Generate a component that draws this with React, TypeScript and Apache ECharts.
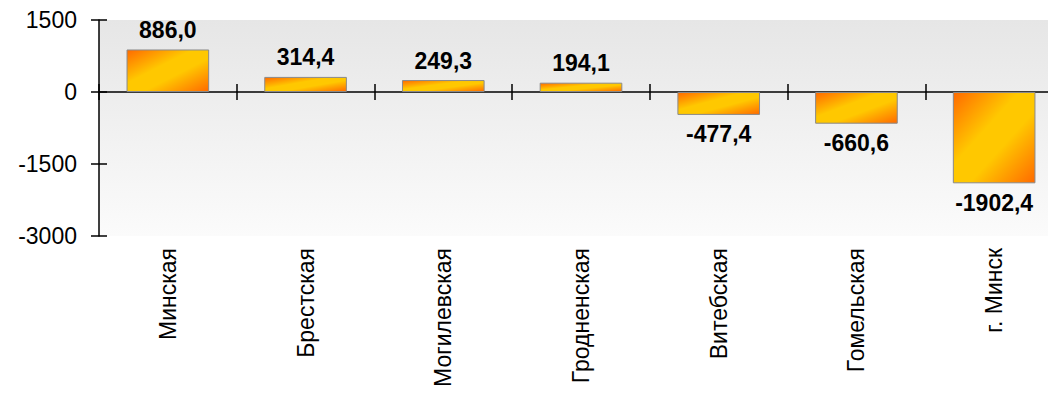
import React, { useEffect, useRef } from "react";
import * as echarts from "echarts";

const categories = ["Минская", "Брестская", "Могилевская", "Гродненская", "Витебская", "Гомельская", "г. Минск"];
const values = [886.0, 314.4, 249.3, 194.1, -477.4, -660.6, -1902.4];
const yMin = -3000;
const yMax = 1500;
const yInterval = 1500;

const fmt = (v: number) => v.toFixed(1).replace(".", ",");

export default function App() {
  const ref = useRef<HTMLDivElement>(null);
  useEffect(() => {
    if (!ref.current) return;
    const chart = echarts.init(ref.current, null, { renderer: "svg" });
    const barColor = new echarts.graphic.LinearGradient(0, 0, 1, 1, [
      { offset: 0, color: "#ff6a00" },
      { offset: 0.4, color: "#ffc800" },
      { offset: 0.6, color: "#ffc800" },
      { offset: 1, color: "#ff6a00" },
    ]);
    const font = "Liberation Sans, Arial, sans-serif";
    const yBase = {
      type: "value",
      min: yMin,
      max: yMax,
      interval: yInterval,
      position: "left",
      splitLine: { show: false },
    };
    const xBase = {
      type: "category",
      data: categories,
      boundaryGap: true,
      position: "bottom",
    };
    chart.setOption({
      animation: false,
      grid: {
        left: 99,
        top: 20,
        right: 0,
        bottom: 161,
        show: true,
        borderWidth: 0,
        backgroundColor: new echarts.graphic.LinearGradient(0, 0, 0, 1, [
          { offset: 0, color: "#e6e6e6" },
          { offset: 1, color: "#fbfbfb" },
        ]),
      },
      xAxis: [
        {
          ...xBase,
          axisLine: { show: false, onZero: false },
          axisTick: { show: false },
          axisLabel: {
            rotate: 90,
            margin: 12,
            fontSize: 23,
            color: "#000",
            fontFamily: font,
          },
        },
        {
          ...xBase,
          axisLine: { show: true, onZero: true, lineStyle: { color: "#000", width: 1.5 } },
          axisTick: { show: true, length: 8, lineStyle: { color: "#000", width: 1.5 } },
          axisLabel: { show: false },
        },
        {
          ...xBase,
          axisLine: { show: false, onZero: true },
          axisTick: { show: true, inside: true, length: 8, lineStyle: { color: "#000", width: 1.5 } },
          axisLabel: { show: false },
        },
      ],
      yAxis: [
        {
          ...yBase,
          axisLine: { show: true, lineStyle: { color: "#000", width: 1.5 } },
          axisTick: { show: true, length: 8, lineStyle: { color: "#000", width: 1.5 } },
          axisLabel: {
            fontSize: 23,
            color: "#000",
            fontFamily: font,
            margin: 22,
            formatter: (v: number) => String(v),
          },
        },
        {
          ...yBase,
          axisLine: { show: false },
          axisTick: { show: true, inside: true, length: 8, lineStyle: { color: "#000", width: 1.5 } },
          axisLabel: { show: false },
        },
      ],
      series: [
        {
          type: "bar",
          xAxisIndex: 1,
          yAxisIndex: 0,
          data: values,
          barWidth: "60%",
          itemStyle: { color: barColor, borderColor: "#8a8a8a", borderWidth: 1 },
          label: {
            show: true,
            position: "outside",
            distance: 8,
            formatter: (p: any) => fmt(p.value),
            fontSize: 23,
            fontWeight: "bold",
            color: "#000",
            fontFamily: font,
          },
        },
      ],
    });
    return () => chart.dispose();
  }, []);
  return (
    <div style={{ position: "absolute", left: 0, top: 0, width: 1048, height: 397, overflow: "hidden" }}>
      <div ref={ref} style={{ width: 1063, height: 397 }} />
    </div>
  );
}
